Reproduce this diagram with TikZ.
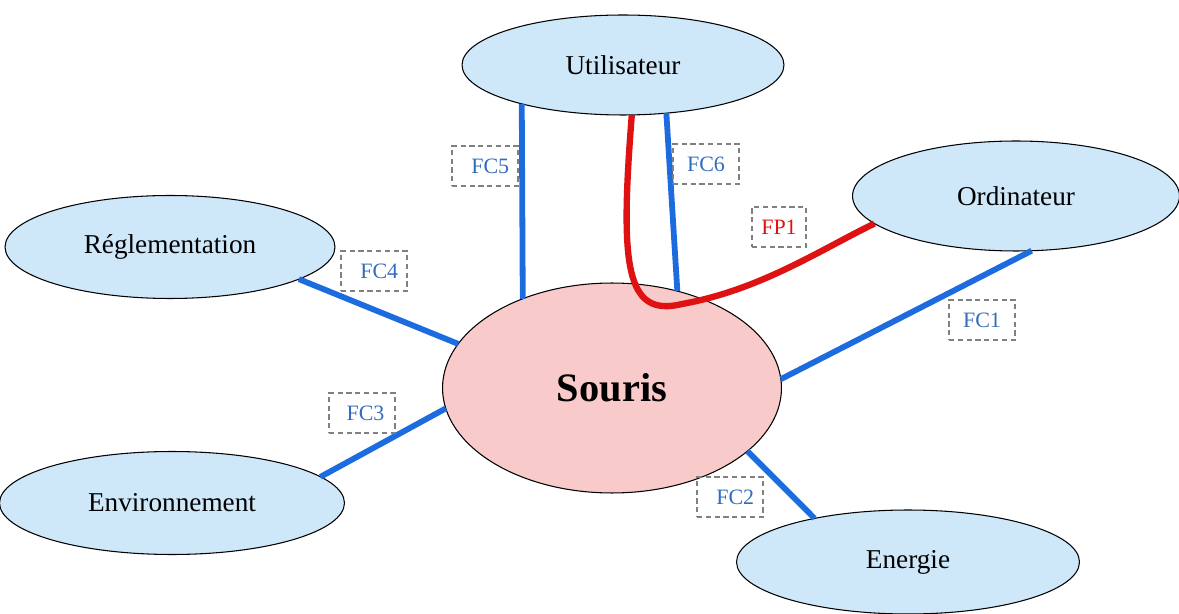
\documentclass[tikz,border=0pt]{standalone}
\usepackage{fontspec}
\setmainfont{Liberation Serif}
\usetikzlibrary{shapes.geometric}
\definecolor{fondBulle}{RGB}{206,232,250}
\definecolor{fondSouris}{RGB}{248,202,202}
\definecolor{bleuTrait}{RGB}{28,108,224}
\definecolor{rougeTrait}{RGB}{222,18,18}
\definecolor{bleuTexte}{RGB}{50,108,190}

\begin{document}
\begin{tikzpicture}[x=0.02cm, y=-0.02cm,
  bulle/.style={ellipse, draw=black, line width=0.6pt, fill=fondBulle, outer sep=0pt, inner sep=0pt, font=\fontsize{15.5}{18}\selectfont},
  lien/.style={line width=3.3pt, color=bleuTrait},
  etiquette/.style={draw=gray, densely dashed, line width=0.6pt, minimum width=1.32cm, minimum height=0.8cm, inner sep=0pt, font=\fontsize{12.5}{15}\selectfont, text=bleuTexte}]
\useasboundingbox (0,0) rectangle (1179,614);

\node[bulle, minimum width=6.44cm, minimum height=2cm] (util) at (623,65) {Utilisateur};
\node[bulle, minimum width=6.54cm, minimum height=2.2cm] (ordi) at (1016,196) {Ordinateur};
\node[bulle, minimum width=6.6cm, minimum height=2.06cm] (regl) at (170,247) {Réglementation};
\node[bulle, minimum width=6.9cm, minimum height=2.06cm] (envi) at (172,503) {Environnement};
\node[bulle, minimum width=6.86cm, minimum height=2.08cm] (ener) at (908,562) {Energie};
\node[bulle, fill=fondSouris, minimum width=6.78cm, minimum height=4.2cm, font=\fontsize{23}{27}\selectfont\bfseries] (souris) at (612,388) {Souris};

\draw[lien] (util.201) -- (souris.135.6);
\draw[lien] (util.312) -- (souris.56.8);
\draw[lien] (ordi.286) -- (souris.3.4);
\draw[lien] (ener.155.8) -- (souris.335.4);
\draw[lien] (envi.10.9) -- (souris.187.6);
\draw[lien] (regl.346) -- (souris.164);
\draw[line width=3.6pt, color=rougeTrait] (util.280) .. controls (620,265) and (625,318) .. (682,304) .. controls (760,290) and (820,250) .. (ordi.191);

\node[etiquette] (fc5) at (485,166) {\hspace{6pt}FC5};
\node[etiquette] (fc6) at (706,164) {FC6\hspace{4pt}};
\node[etiquette, minimum width=1.08cm, text=rougeTrait] (fp1) at (779,227) {FP1};
\node[etiquette] (fc4) at (374,271) {\hspace{6pt}FC4};
\node[etiquette] (fc1) at (982,320) {FC1};
\node[etiquette] (fc3) at (362,413) {\hspace{4pt}FC3};
\node[etiquette] (fc2) at (730,497) {\hspace{6pt}FC2};
\end{tikzpicture}
\end{document}
